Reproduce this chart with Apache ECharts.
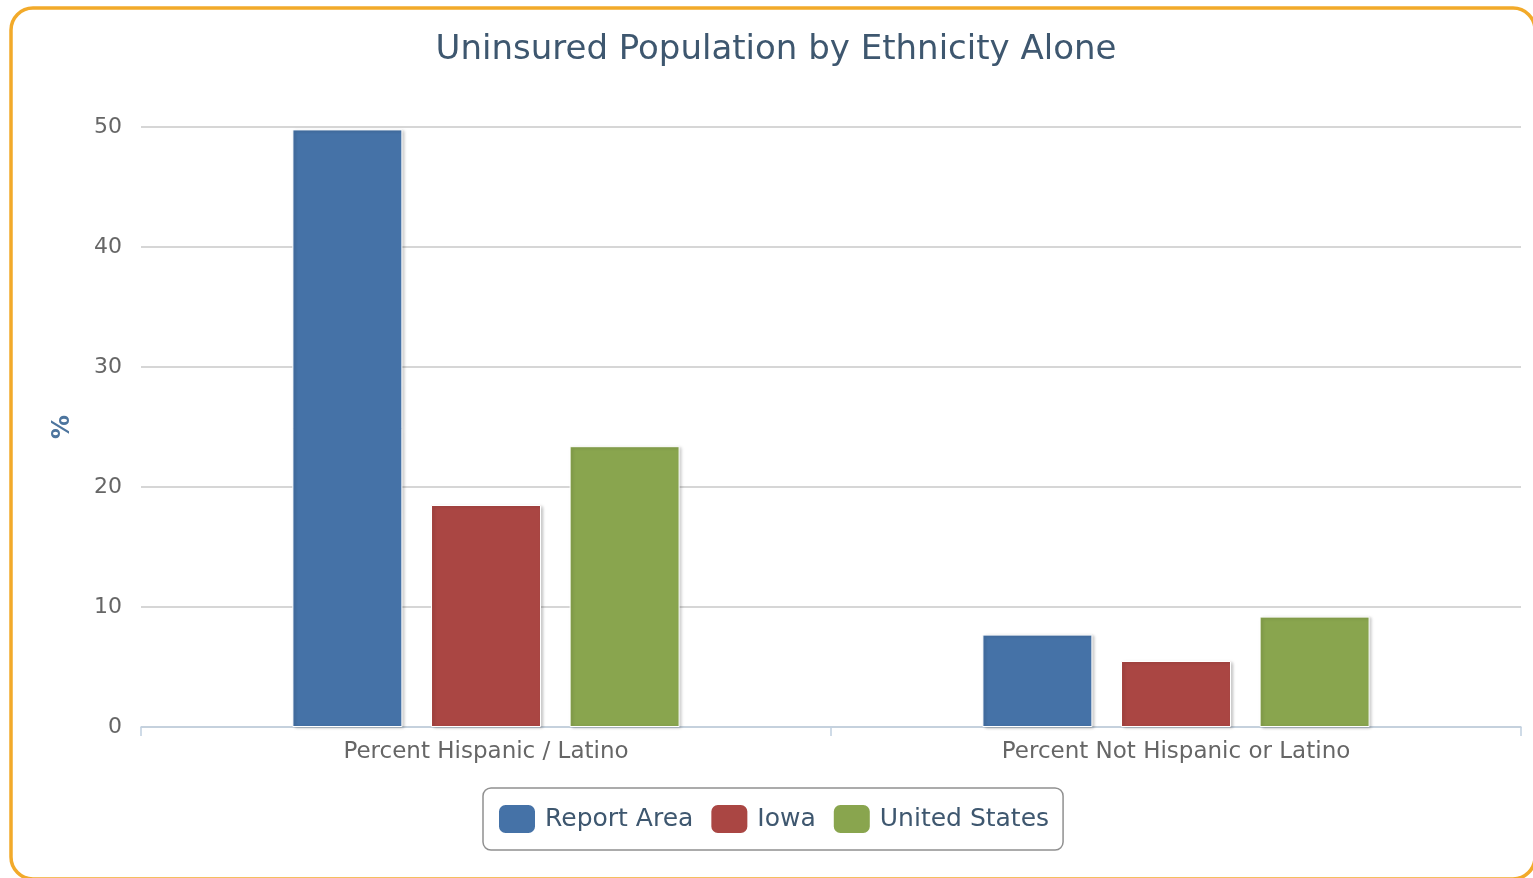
<!DOCTYPE html>
<html>
<head>
<meta charset="utf-8">
<script src="https://cdn.jsdelivr.net/npm/echarts@6/dist/echarts.min.js"></script>
<style>
  html, body { margin: 0; padding: 0; background: #fff; }
  #chart { width: 1533px; height: 878px; }
</style>
</head>
<body>
<div id="chart"></div>
<script>
const categories = ['Percent Hispanic / Latino', 'Percent Not Hispanic or Latino'];
const seriesNames = ['Report Area', 'Iowa', 'United States'];
const reportArea = [49.8, 7.7];
const iowa = [18.5, 5.5];
const unitedStates = [23.4, 9.2];
const colors = ['#4572A7', '#AA4643', '#89A54E'];

const font = '"DejaVu Sans", Verdana, sans-serif';
const chart = echarts.init(document.getElementById('chart'));

// shared bar look: thin white edge and soft shadow
function barStyle(color) {
  return {
    color: color,
    borderColor: '#ffffff',
    borderWidth: 1,
    shadowColor: 'rgba(0,0,0,0.22)',
    shadowBlur: 3,
    shadowOffsetX: 2,
    shadowOffsetY: 1
  };
}

const data = [reportArea, iowa, unitedStates];

chart.setOption({
  animation: false,
  title: {
    text: 'Uninsured Population by Ethnicity Alone',
    left: 776,
    textAlign: 'center',
    top: 33,
    padding: 0,
    textStyle: {
      color: '#3E576F',
      fontFamily: font,
      fontSize: 34,
      fontWeight: 'normal'
    }
  },
  graphic: [
    {
      type: 'rect',
      shape: { x: 11, y: 8, width: 1524, height: 871, r: 22 },
      style: { fill: 'none', stroke: '#F2AA2A', lineWidth: 3.5 },
      silent: true,
      z: -1
    }
  ],
  legend: {
    data: seriesNames,
    left: 483,
    top: 788,
    icon: 'roundRect',
    itemWidth: 38,
    itemHeight: 30,
    itemGap: 16,
    padding: [15, 14, 15, 14],
    borderColor: '#909090',
    borderWidth: 1.5,
    borderRadius: 8,
    textStyle: {
      color: '#3E576F',
      fontFamily: font,
      fontSize: 25,
      padding: [0, 0, 0, 4]
    }
  },
  grid: {
    left: 141,
    right: 12,
    top: 127,
    bottom: 151,
    containLabel: false
  },
  xAxis: {
    type: 'category',
    data: categories,
    axisLine: { lineStyle: { color: '#C0D0E0', width: 1.5 } },
    axisTick: { show: true, length: 9, lineStyle: { color: '#C0D0E0', width: 1.5 } },
    axisLabel: {
      color: '#666666',
      fontFamily: font,
      fontSize: 23,
      margin: 14
    }
  },
  yAxis: {
    type: 'value',
    min: 0,
    max: 50,
    interval: 10,
    name: '%',
    nameLocation: 'middle',
    nameGap: 66,
    nameTextStyle: {
      color: '#4D759E',
      fontFamily: font,
      fontSize: 24,
      fontWeight: 'bold'
    },
    axisLine: { show: false },
    axisTick: { show: false },
    axisLabel: {
      color: '#666666',
      fontFamily: font,
      fontSize: 22,
      margin: 19
    },
    splitLine: { lineStyle: { color: '#C8C8C8', width: 1.5 } }
  },
  series: seriesNames.map((name, i) => ({
    name: name,
    type: 'bar',
    data: data[i],
    barWidth: 110,
    barGap: '26%',
    itemStyle: barStyle(colors[i])
  }))
});
</script>
</body>
</html>
